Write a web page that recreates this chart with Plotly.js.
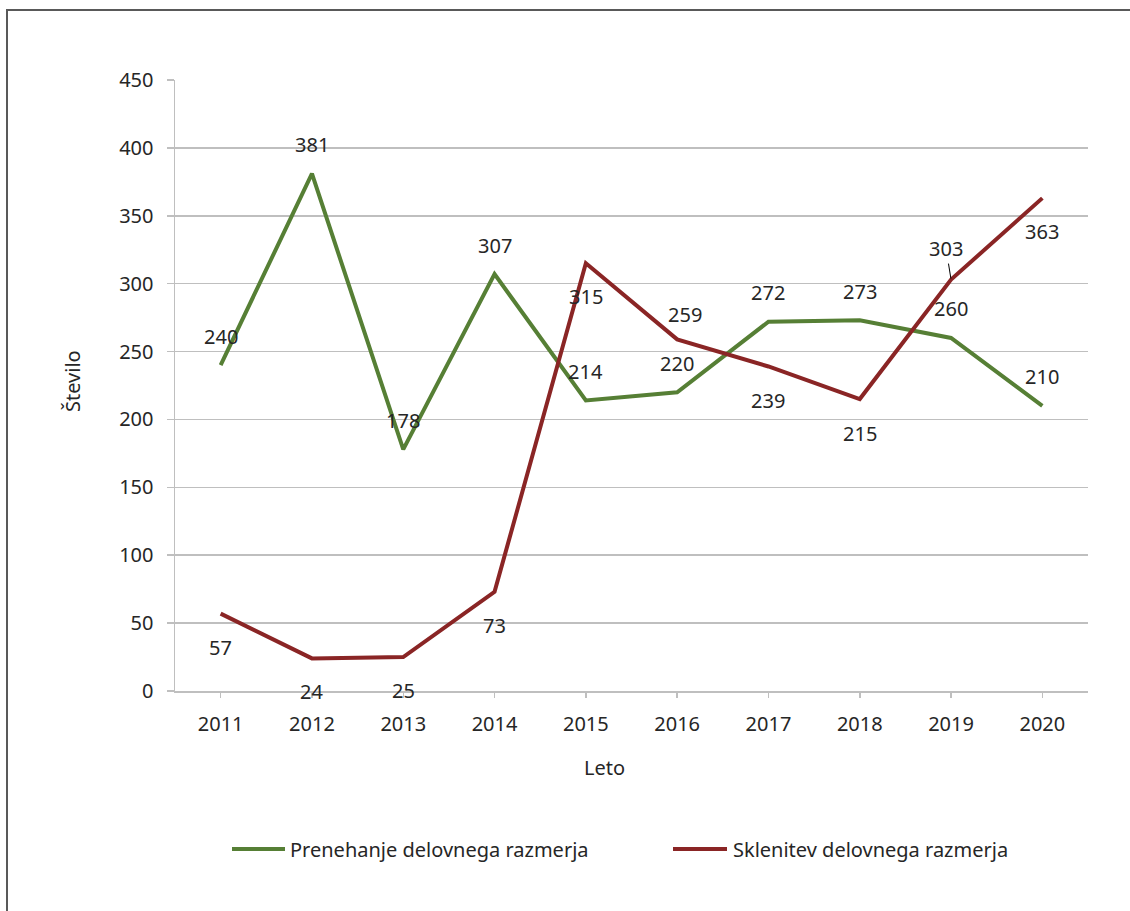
<!DOCTYPE html>
<html>
<head>
<meta charset="utf-8">
<script src="https://cdn.plot.ly/plotly-3.0.1.min.js"></script>
<style>
  html, body { margin: 0; padding: 0; background: #fff; }
  #chart { width: 1130px; height: 911px; }
</style>
</head>
<body>
<div id="chart"></div>
<script>
// ---- data ----
const years = ["2011", "2012", "2013", "2014", "2015", "2016", "2017", "2018", "2019", "2020"];
const prenehanje = [240, 381, 178, 307, 214, 220, 272, 273, 260, 210];
const sklenitev = [57, 24, 25, 73, 315, 259, 239, 215, 303, 363];
const seriesNames = ["Prenehanje delovnega razmerja", "Sklenitev delovnega razmerja"];
const yTicks = [0, 50, 100, 150, 200, 250, 300, 350, 400, 450];

// ---- styling ----
const FONT = "Noto Sans, Open Sans, Arial, sans-serif";
const TXT = "#262626";
const GREEN = "#567f35";
const RED = "#8a2525";
const GRID = "#bfbfbf";
const FS = 20;

// plot area in pixels: 175..1088 x, 80..691 y
const W = 1130, H = 911;
const L = 175, R = W - 1088, T = 80, B = H - 691;
const pw = W - L - R, ph = H - T - B;
const px = v => (v - L) / pw;
const py = v => (H - B - v) / ph;

// label offsets (pixels) per point
const greenShiftY = years.map(() => 29);
const greenShiftX = years.map(() => 0);
const redShiftY = [-34, -33, -33, -34, -33, 25, -34, -34, 31, -33];
const redShiftX = [0, 0, 0, 0, 0, 8, 0, 0, -5, 0];
const redArrow = [false, false, false, false, false, false, false, false, true, false];

const colors = [GREEN, RED];
const traces = [prenehanje, sklenitev].map((vals, k) => ({
  x: years, y: vals, name: seriesNames[k], type: "scatter", mode: "lines",
  line: { color: colors[k], width: 4 }, hoverinfo: "x+y", showlegend: false
}));

const annotations = [];
years.forEach((yr, i) => {
  annotations.push({
    x: i, y: prenehanje[i], xref: "x", yref: "y", text: String(prenehanje[i]),
    showarrow: false, xshift: greenShiftX[i], yshift: greenShiftY[i],
    font: { family: FONT, size: FS, color: TXT }
  });
  if (redArrow[i]) {
    annotations.push({
      x: i, y: sklenitev[i], xref: "x", yref: "y", text: String(sklenitev[i]),
      showarrow: true, arrowhead: 0, arrowwidth: 1, arrowcolor: "#000",
      ax: redShiftX[i], ay: -redShiftY[i], standoff: 1,
      font: { family: FONT, size: FS, color: TXT }
    });
  } else {
    annotations.push({
      x: i, y: sklenitev[i], xref: "x", yref: "y", text: String(sklenitev[i]),
      showarrow: false, xshift: redShiftX[i], yshift: redShiftY[i],
      font: { family: FONT, size: FS, color: TXT }
    });
  }
});

// axis titles
annotations.push({
  xref: "paper", yref: "paper", x: px(604), y: py(768), text: "Leto",
  showarrow: false, xanchor: "center", yanchor: "middle",
  font: { family: FONT, size: FS, color: TXT }
});
annotations.push({
  xref: "paper", yref: "paper", x: px(72), y: py(381), text: "Število",
  showarrow: false, xanchor: "center", yanchor: "middle", textangle: -90,
  font: { family: FONT, size: FS, color: TXT }
});

// custom legend (long line samples like the original)
const legendItems = [
  { lx0: 232, lx1: 285, tx: 288 },
  { lx0: 673, lx1: 727, tx: 731 }
];
const legendY = 849;
const shapes = [
  {
    type: "rect", xref: "paper", yref: "paper", layer: "above",
    x0: px(7), x1: px(1140), y0: py(920), y1: py(10),
    line: { color: "#595959", width: 2 }, fillcolor: "rgba(0,0,0,0)"
  }
];
legendItems.forEach((it, k) => {
  shapes.push({
    type: "line", xref: "paper", yref: "paper",
    x0: px(it.lx0), x1: px(it.lx1), y0: py(legendY), y1: py(legendY),
    line: { color: colors[k], width: 4 }
  });
  annotations.push({
    xref: "paper", yref: "paper", x: px(it.tx), y: py(legendY), text: seriesNames[k],
    showarrow: false, xanchor: "left", yanchor: "middle",
    font: { family: FONT, size: FS, color: TXT }
  });
});

const layout = {
  width: W, height: H,
  margin: { l: L, r: R, t: T, b: B },
  paper_bgcolor: "#fff", plot_bgcolor: "#fff",
  font: { family: FONT, size: FS, color: TXT },
  showlegend: false,
  xaxis: {
    type: "category", range: [-0.5, 9.5], showgrid: false,
    showline: true, linecolor: GRID, linewidth: 1.5,
    ticks: "outside", ticklen: 5, tickcolor: GRID, tickwidth: 1.5,
    ticklabelstandoff: 9,
    tickfont: { family: FONT, size: FS, color: TXT }, fixedrange: true
  },
  yaxis: {
    range: [0, 450], tickvals: yTicks, ticktext: yTicks.map(String),
    showgrid: true, gridcolor: GRID, gridwidth: 1.5,
    showline: true, linecolor: GRID, linewidth: 1.5, zeroline: false,
    ticks: "outside", ticklen: 7, tickcolor: GRID, tickwidth: 1.5,
    ticklabelstandoff: 9,
    tickfont: { family: FONT, size: FS, color: TXT }, fixedrange: true
  },
  annotations: annotations,
  shapes: shapes
};

Plotly.newPlot("chart", traces, layout, { staticPlot: true, displayModeBar: false });
</script>
</body>
</html>
